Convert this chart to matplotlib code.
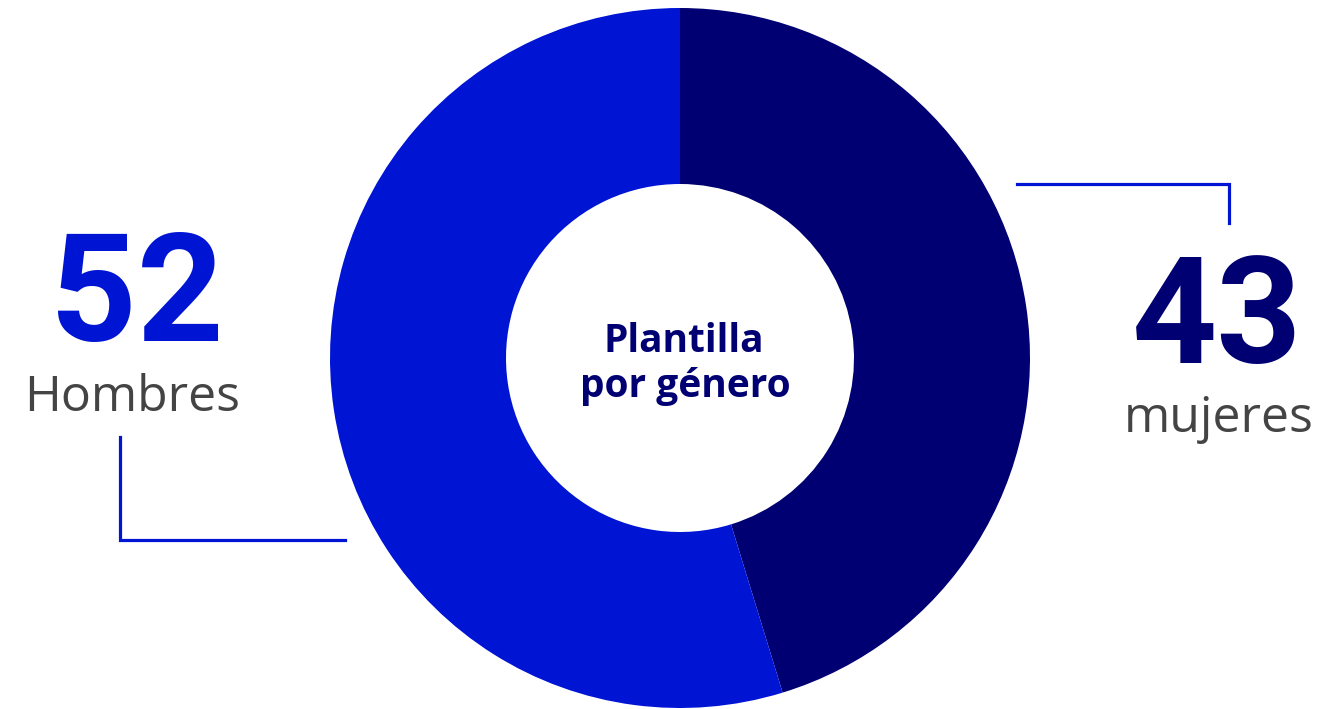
import numpy as np
import matplotlib.pyplot as plt

# data
labels = ['mujeres', 'Hombres']
values = [43, 52]
colors = ['#000073', '#0014D4']
center_title = ['Plantilla', 'por género']

W, H = 1322, 709
fig = plt.figure(figsize=[W/100, H/100], dpi=100)
ax = fig.add_axes([0, 0, 1, 1])

def py(y):
    # pixel row -> data y
    return H - y

cx, cy, R = 680, py(358), 350
ax.pie(values, colors=colors, startangle=90, counterclock=False,
       center=(cx, cy), radius=R, frame=True,
       wedgeprops=dict(width=R-174, linewidth=0))
ax.set_xlim(0, W)
ax.set_ylim(0, H)
ax.set_aspect('equal')
ax.axis('off')

fam = ['Roboto', 'DejaVu Sans']
fam2 = ['Open Sans', 'DejaVu Sans']
ax.text(684, py(352), center_title[0], ha='center', va='baseline',
        fontsize=28, fontweight='bold', color=colors[0], family=fam2)
ax.text(685, py(397), center_title[1], ha='center', va='baseline',
        fontsize=28, fontweight='bold', color=colors[0], family=fam2)

# Hombres label
ax.text(137, py(341), str(values[1]), ha='center', va='baseline',
        fontsize=109, fontweight='bold', color=colors[1], family=fam)
ax.text(132, py(411), labels[1], ha='center', va='baseline',
        fontsize=36, color='#444444', family=fam2)
ax.plot([120, 120, 345], [py(437), py(540), py(540)], color='#0014D4', lw=2.3,
        solid_joinstyle='miter')

# mujeres label
ax.text(1217, py(363), str(values[0]), ha='center', va='baseline',
        fontsize=107, fontweight='bold', color=colors[0], family=fam)
ax.text(1219, py(432), labels[0], ha='center', va='baseline',
        fontsize=36, color='#444444', family=fam2)
ax.plot([1017, 1229, 1229], [py(184), py(184), py(223)], color='#0014D4', lw=2.3,
        solid_joinstyle='miter')

plt.savefig('out.png', dpi=100)
